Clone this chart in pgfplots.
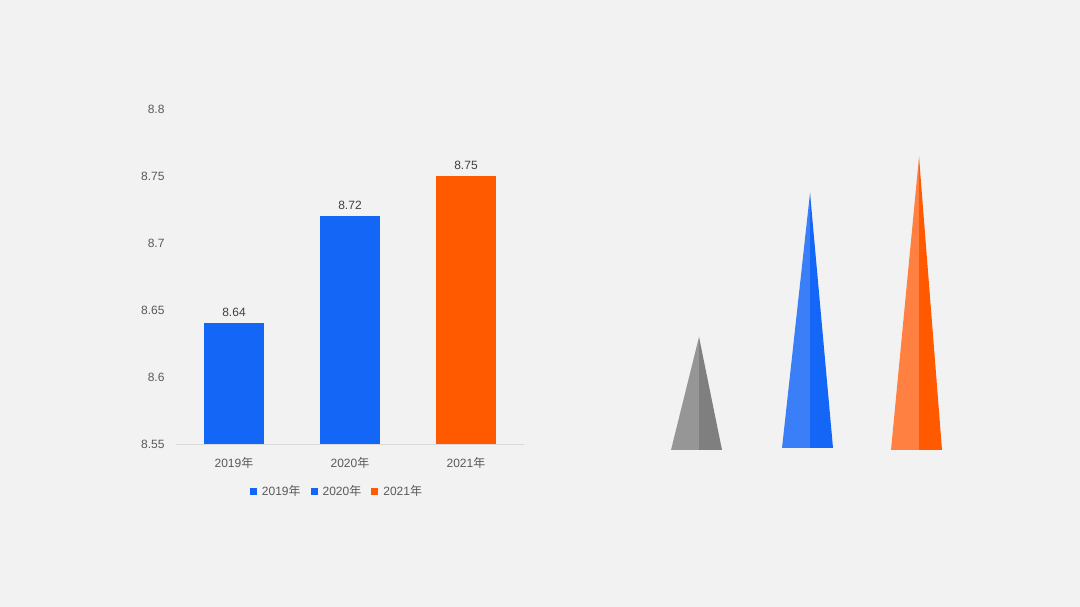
\documentclass[border=0pt]{standalone}
\usepackage{pgfplots}
\pgfplotsset{compat=1.18}
\usepackage{fontspec}
\setmainfont{Liberation Sans}
\newfontfamily\cjk{Noto Sans CJK SC}
\definecolor{bg}{HTML}{F2F2F2}
\definecolor{barblue}{HTML}{1466F6}
\definecolor{barorange}{HTML}{FF5A00}
\definecolor{tickc}{HTML}{595959}
\definecolor{labc}{HTML}{404040}
\definecolor{basec}{HTML}{D9D9D9}
\definecolor{greyL}{HTML}{969696}
\definecolor{greyR}{HTML}{7F7F7F}
\definecolor{blueL}{HTML}{3A7FF8}
\definecolor{blueR}{HTML}{1466F6}
\definecolor{orangeL}{HTML}{FF8040}
\definecolor{orangeR}{HTML}{FF5A00}
\begin{document}
\begin{tikzpicture}
\fill[bg] (0pt,0pt) rectangle (1080pt,607pt);
\begin{axis}[
  at={(176pt,163pt)}, anchor=south west,
  scale only axis, width=348pt, height=335pt,
  xmin=-0.5, xmax=2.5, ymin=8.55, ymax=8.8,
  ytick={8.55,8.6,8.65,8.7,8.75,8.8},
  yticklabels={8.55,8.6,8.65,8.7,8.75,8.8},
  xtick={0,1,2}, xticklabels={2019{\cjk 年},2020{\cjk 年},2021{\cjk 年}},
  major tick length=0pt,
  axis lines*=left,
  x axis line style={draw=basec, line width=0.8pt},
  y axis line style={draw=none},
  /pgf/number format/assume math mode=true,
  ticklabel style={font=\fontsize{12}{14}\selectfont, text=tickc},
  yticklabel style={xshift=-8pt},
  xticklabel style={yshift=-10pt},
  ybar, bar width=60pt, bar shift=0pt,
  nodes near coords,
  nodes near coords style={font=\fontsize{12}{14}\selectfont, text=labc, yshift=3pt,
    /pgf/number format/.cd, fixed, precision=2, fixed zerofill},
  legend columns=3,
  legend style={at={(0.4626,-0.142)}, anchor=center, draw=none, fill=none,
    font=\fontsize{12}{14}\selectfont, text=tickc,
    /tikz/every even column/.append style={column sep=8pt},
    /tikz/every odd column/.append style={column sep=3pt}},
  legend image code/.code={\fill[#1] (0pt,-3.5pt) rectangle (7pt,3.5pt);},
]
\addplot[fill=barblue, draw=none] coordinates {(0,8.64)};
\addplot[fill=barblue, draw=none] coordinates {(1,8.72)};
\addplot[fill=barorange, draw=none] coordinates {(2,8.75)};
\legend{2019{\cjk 年},2020{\cjk 年},2021{\cjk 年}}
\end{axis}
\begin{axis}[
  at={(0pt,0pt)}, anchor=south west,
  scale only axis, width=1080pt, height=607pt,
  xmin=0, xmax=1080, ymin=0, ymax=607,
  hide axis,
]
\addplot[fill=greyL, draw=none] coordinates {(671,157) (699,270) (699,157)} -- cycle;
\addplot[fill=greyR, draw=none] coordinates {(699,157) (699,270) (722,157)} -- cycle;
\addplot[fill=blueL, draw=none] coordinates {(782,159) (810,414) (810,159)} -- cycle;
\addplot[fill=blueR, draw=none] coordinates {(810,159) (810,414) (833,159)} -- cycle;
\addplot[fill=orangeL, draw=none] coordinates {(891,157) (919,450) (919,157)} -- cycle;
\addplot[fill=orangeR, draw=none] coordinates {(919,157) (919,450) (942,157)} -- cycle;
\end{axis}
\end{tikzpicture}
\end{document}
